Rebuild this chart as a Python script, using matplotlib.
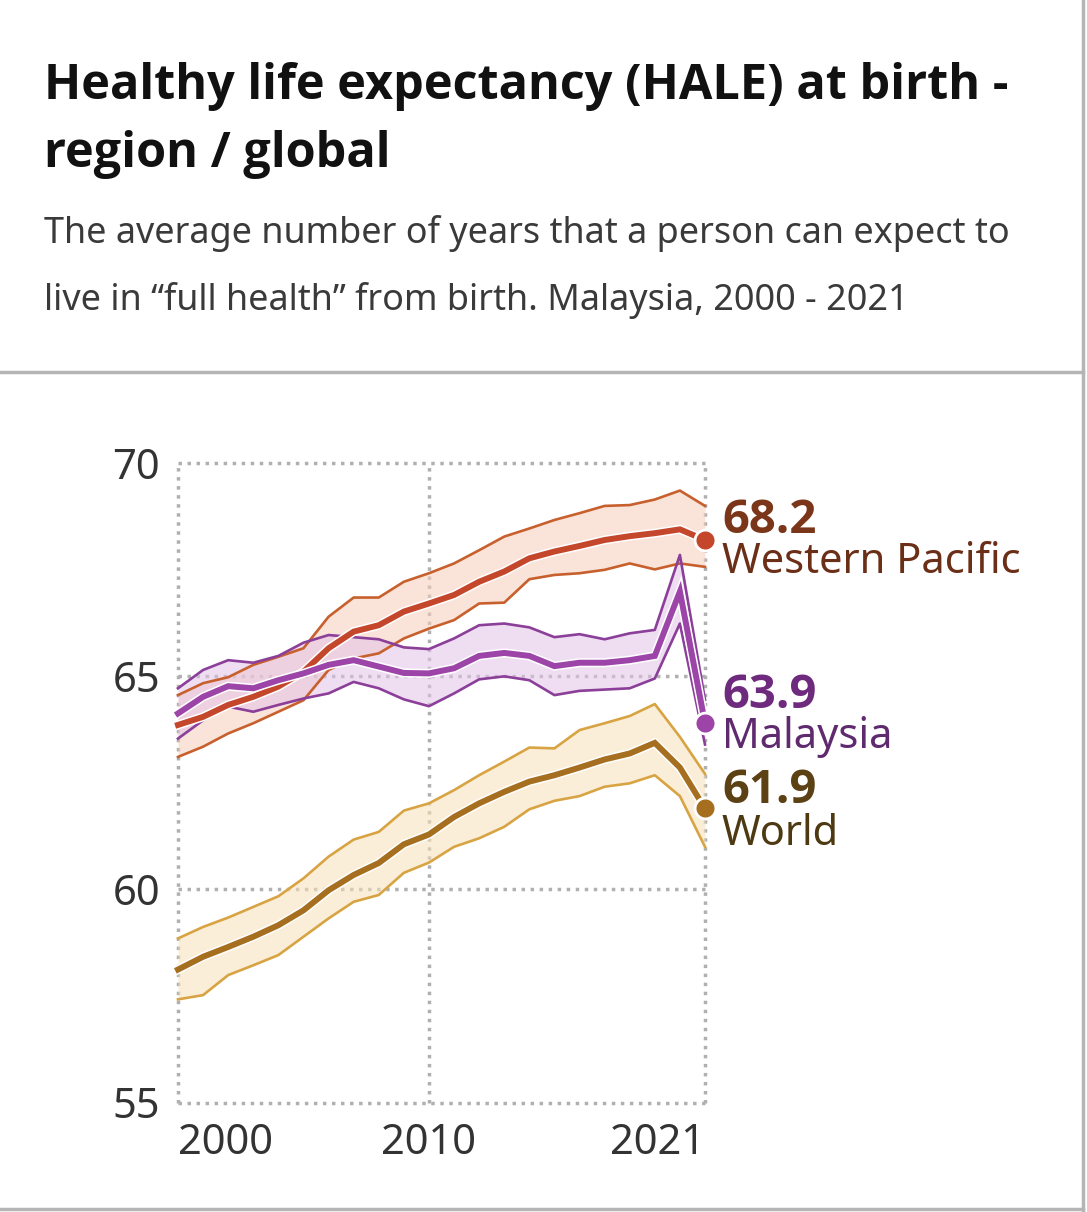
import numpy as np
import matplotlib
matplotlib.use("Agg")
import matplotlib.pyplot as plt
import matplotlib.patheffects as pe
from matplotlib.lines import Line2D
from matplotlib import font_manager as fm

plt.rcParams['font.family'] = ['Noto Sans', 'DejaVu Sans']

# pick a family that actually has a bold face installed
def has_bold(entry):
    w = entry.weight
    if isinstance(w, str):
        return w in ('bold', 'semibold', 'demibold', 'heavy', 'extra bold', 'black')
    return w >= 600

bold_names = {f.name for f in fm.fontManager.ttflist if has_bold(f)}
bold_family = next((n for n in ['Noto Sans', 'Open Sans', 'Lato', 'Roboto', 'Inter', 'DejaVu Sans']
                    if n in bold_names), 'DejaVu Sans')

# data
years = list(range(2000, 2022))

wp_mid = [63.86, 64.05, 64.33, 64.52, 64.76, 65.11, 65.66, 66.05, 66.20, 66.52, 66.71,
          66.91, 67.22, 67.46, 67.77, 67.93, 68.06, 68.20, 68.29, 68.36, 68.45, 68.20]
wp_hi = [64.56, 64.84, 64.98, 65.27, 65.46, 65.66, 66.40, 66.85, 66.85, 67.22, 67.42,
         67.65, 67.96, 68.28, 68.47, 68.67, 68.83, 69.00, 69.02, 69.15, 69.36, 69.00]
wp_lo = [63.11, 63.35, 63.66, 63.90, 64.17, 64.44, 65.15, 65.42, 65.54, 65.89, 66.12,
         66.32, 66.71, 66.73, 67.28, 67.38, 67.42, 67.50, 67.65, 67.51, 67.65, 67.57]

my_mid = [64.13, 64.52, 64.77, 64.72, 64.91, 65.07, 65.27, 65.38, 65.23, 65.08, 65.07,
          65.19, 65.48, 65.55, 65.48, 65.24, 65.32, 65.32, 65.38, 65.48, 66.99, 63.90]
my_hi = [64.72, 65.15, 65.38, 65.32, 65.48, 65.79, 65.97, 65.92, 65.87, 65.68, 65.64,
         65.89, 66.20, 66.24, 66.15, 65.92, 65.99, 65.87, 66.01, 66.09, 67.85, 64.45]
my_lo = [63.54, 63.97, 64.29, 64.17, 64.33, 64.48, 64.60, 64.87, 64.72, 64.46, 64.30,
         64.60, 64.93, 65.00, 64.91, 64.56, 64.66, 64.69, 64.72, 64.95, 66.24, 63.40]

wd_mid = [58.12, 58.42, 58.65, 58.89, 59.16, 59.51, 59.98, 60.34, 60.62, 61.06, 61.29,
          61.70, 62.02, 62.29, 62.53, 62.68, 62.86, 63.05, 63.19, 63.44, 62.86, 61.90]
wd_hi = [58.85, 59.12, 59.34, 59.59, 59.84, 60.26, 60.77, 61.17, 61.35, 61.85, 62.02,
         62.33, 62.68, 63.00, 63.33, 63.31, 63.74, 63.90, 64.07, 64.35, 63.58, 62.71]
wd_lo = [57.42, 57.52, 57.99, 58.22, 58.46, 58.89, 59.32, 59.71, 59.87, 60.39, 60.63,
         61.00, 61.20, 61.47, 61.88, 62.08, 62.19, 62.41, 62.49, 62.68, 62.19, 61.00]

names = ['Western Pacific', 'Malaysia', 'World']
y_ticks = [55, 60, 65, 70]
x_ticks = [2000, 2010, 2021]

series = [
    # name, mid, hi, lo, line colour, edge colour, fill colour, value colour, name colour
    (names[0], wp_mid, wp_hi, wp_lo, '#c4472c', '#c8602e', '#f7cdb8', '#7b3519', '#6b2f17'),
    (names[1], my_mid, my_hi, my_lo, '#9c44a8', '#8b3f99', '#e3c3e8', '#6e2a7d', '#5f2b6e'),
    (names[2], wd_mid, wd_hi, wd_lo, '#a66f1f', '#d8a443', '#f8e1b8', '#5b4113', '#4d3912'),
]

W, H = 1087, 1212
fig = plt.figure(figsize=(W / 100, H / 100), dpi=100)
ax = fig.add_axes([178 / W, 1 - 1102.5 / H, (705 - 178) / W, (1102.5 - 463.3) / H])
ax.set_xlim(2000, 2021)
ax.set_ylim(55, 70)
for s in ax.spines.values():
    s.set_visible(False)

# dotted grid, drawn by hand so the edge lines are not clipped
grid_kw = dict(color='#b0b0b0', lw=2.5, ls=(0, (1, 1.6)), clip_on=False, zorder=0)
for yv in y_ticks:
    ax.axhline(yv, **grid_kw)
for xv in x_ticks:
    ax.axvline(xv, **grid_kw)

for name, mid, hi, lo, lc, ec, fc, vc, nc in series:
    ax.fill_between(years, lo, hi, color=fc, alpha=0.55, lw=0, zorder=1)
    ax.plot(years, hi, color=ec, lw=1.9, zorder=2, clip_on=False)
    ax.plot(years, lo, color=ec, lw=1.9, zorder=2, clip_on=False)
    ax.plot(years, mid, color=lc, lw=4.3, zorder=3, clip_on=False,
            solid_joinstyle='miter',
            path_effects=[pe.Stroke(linewidth=6.5, foreground='white'), pe.Normal()])
    ax.plot(years[-1], mid[-1], 'o', ms=15, color=lc, mec='white', mew=2,
            zorder=4, clip_on=False)

# end labels
end_labels = {
    'Western Pacific': (533, 573),
    'Malaysia': (708, 748),
    'World': (803, 845),
}
for name, mid, hi, lo, lc, ec, fc, vc, nc in series:
    yv, yn = end_labels[name]
    fig.text(722 / W, 1 - yv / H, f'{mid[-1]:.1f}', fontsize=34, fontweight='bold',
             family=bold_family, color=vc, va='baseline', ha='left')
    fig.text(722 / W, 1 - yn / H, name, fontsize=30, color=nc, va='baseline', ha='left')

ax.set_yticks(y_ticks)
ax.set_yticklabels([str(v) for v in y_ticks])
ax.set_xticks(x_ticks)
ax.set_xticklabels([str(v) for v in x_ticks])
ax.tick_params(axis='both', length=0, labelsize=30, labelcolor='#333333')
ax.tick_params(axis='y', pad=13)
ax.tick_params(axis='x', pad=14)
xl = ax.get_xticklabels()
xl[0].set_ha('left')
xl[-1].set_ha('right')

# header
fig.text(44 / W, 1 - 99 / H, 'Healthy life expectancy (HALE) at birth -',
         fontsize=35, fontweight='bold', family=bold_family, color='#111111', va='baseline')
fig.text(44 / W, 1 - 167 / H, 'region / global',
         fontsize=35, fontweight='bold', family=bold_family, color='#111111', va='baseline')
fig.text(44 / W, 1 - 243 / H, 'The average number of years that a person can expect to',
         fontsize=25.9, color='#3a3a3a', va='baseline')
fig.text(44 / W, 1 - 310 / H, 'live in \u201cfull health\u201d from birth. Malaysia, 2000 - 2021',
         fontsize=25.9, color='#3a3a3a', va='baseline')

# card borders
border = dict(color='#b5b5b5', lw=2.5, transform=fig.transFigure)
fig.add_artist(Line2D([0, 1083 / W], [1 - 372 / H, 1 - 372 / H], **border))
fig.add_artist(Line2D([1083 / W, 1083 / W], [0, 1], **border))
fig.add_artist(Line2D([0, 1083 / W], [1 - 1209 / H, 1 - 1209 / H], **border))

fig.savefig('out.png', dpi=100, facecolor='white')
